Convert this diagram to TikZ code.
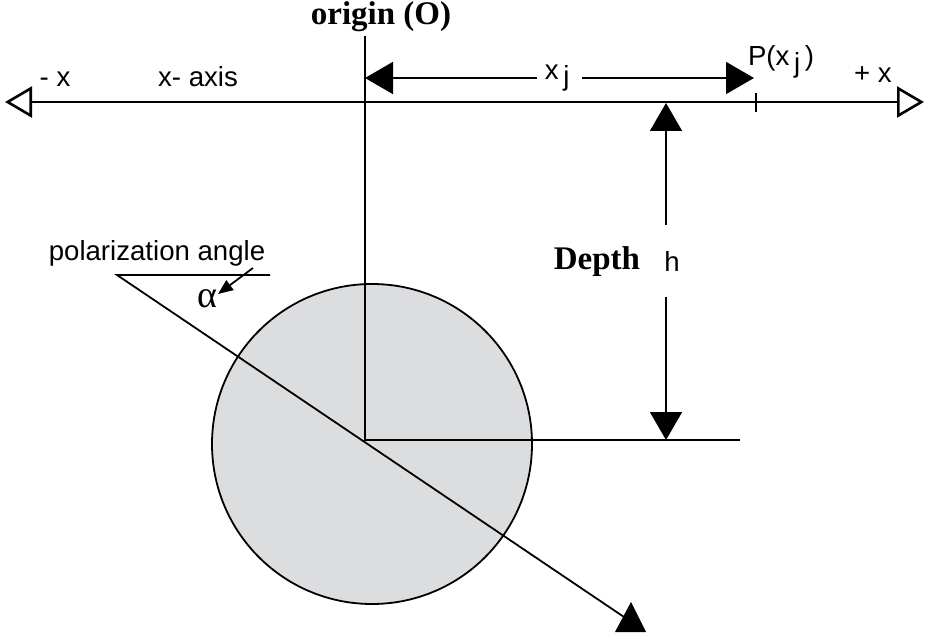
\documentclass[tikz,border=0pt]{standalone}
\usepackage{fontspec}
\setmainfont{Liberation Sans}
\newfontfamily\timesfont{Liberation Serif}
\usetikzlibrary{arrows.meta}
\definecolor{ballgray}{HTML}{DCDDDF}

\newcommand{\lowj}{\,\raisebox{-0.45ex}{j}\,}

\begin{document}
\begin{tikzpicture}[x=0.5pt,y=-0.5pt,
      lbl/.style={font=\fontsize{13.8}{16}\selectfont,inner sep=1pt},
      hdr/.style={font=\fontsize{16.5}{19}\selectfont\timesfont\bfseries,inner sep=1pt},
      thin/.style={line width=0.9pt},
      axis/.style={line width=1.3pt,
                   {Triangle[open,length=13.5pt,width=15.5pt]}-{Triangle[open,length=13.5pt,width=15.5pt]}},
      dim/.style={line width=0.9pt,
                  {Triangle[length=14pt,width=16pt]}-{Triangle[length=14pt,width=16pt]}},
      ptr/.style={line width=0.9pt,-{Triangle[length=7.5pt,width=6pt]}}]
    \useasboundingbox (0,0) rectangle (926,636);

    % sphere
    \draw[thin,fill=ballgray] (372,444) circle[radius=160];

    % x axis
    \coordinate (xl) at (5,102);
    \coordinate (xr) at (924,102);
    \draw[axis] (xl) -- (xr);
    \node[lbl,anchor=base] (mx) at (55,87) {- x};
    \node[lbl,anchor=base] (xaxis) at (198,87) {x- axis};
    \node[lbl,anchor=base] (px) at (873,83) {+ x};

    % origin and depth lines
    \node[hdr] (orig) at (381,17) {origin (O)};
    \coordinate (otop) at (365,36);
    \coordinate (c) at (365,440);
    \coordinate (cr) at (740,440);
    \draw[thin] (otop) -- (c) -- (cr);

    % point P and distance x_j
    \coordinate (ox) at (365,78);
    \coordinate (pj) at (754,78);
    \coordinate (tt) at (756,93);
    \coordinate (tb) at (756,112);
    \draw[thin] (tt) -- (tb);
    \node[lbl,anchor=base] (plbl) at (781,66) {P(x\lowj)};
    \draw[dim] (ox) -- node[lbl,fill=white,inner sep=4pt] (xj) {x\lowj} (pj);

    % depth h
    \coordinate (ht) at (666,103);
    \coordinate (hb) at (666,440);
    \draw[dim] (ht) -- node[pos=0.47,lbl,fill=white,inner xsep=3pt,inner ysep=13pt,xshift=3pt] (h) {h} (hb);
    \node[hdr,anchor=base] (depth) at (597,270) {Depth};

    % polarization direction
    \coordinate (pa) at (117,275);
    \coordinate (pr) at (270,275);
    \coordinate (dend) at (624,617);
    \draw[thin] (pr) -- (pa) -- (dend);
    \coordinate (tl) at (615,632);
    \coordinate (tp) at (631,602);
    \coordinate (tr) at (646,632);
    \fill (tl) -- (tp) -- (tr) -- cycle;
    \node[lbl,anchor=base] (pol) at (157,261) {polarization angle};
    \node[font=\fontsize{19}{21}\selectfont\timesfont,inner sep=1pt,anchor=base] (alpha) at (207,307) {α};
    \coordinate (pf) at (253,268);
    \coordinate (pt) at (218,294);
    \draw[ptr] (pf) -- (pt);
\end{tikzpicture}
\end{document}
